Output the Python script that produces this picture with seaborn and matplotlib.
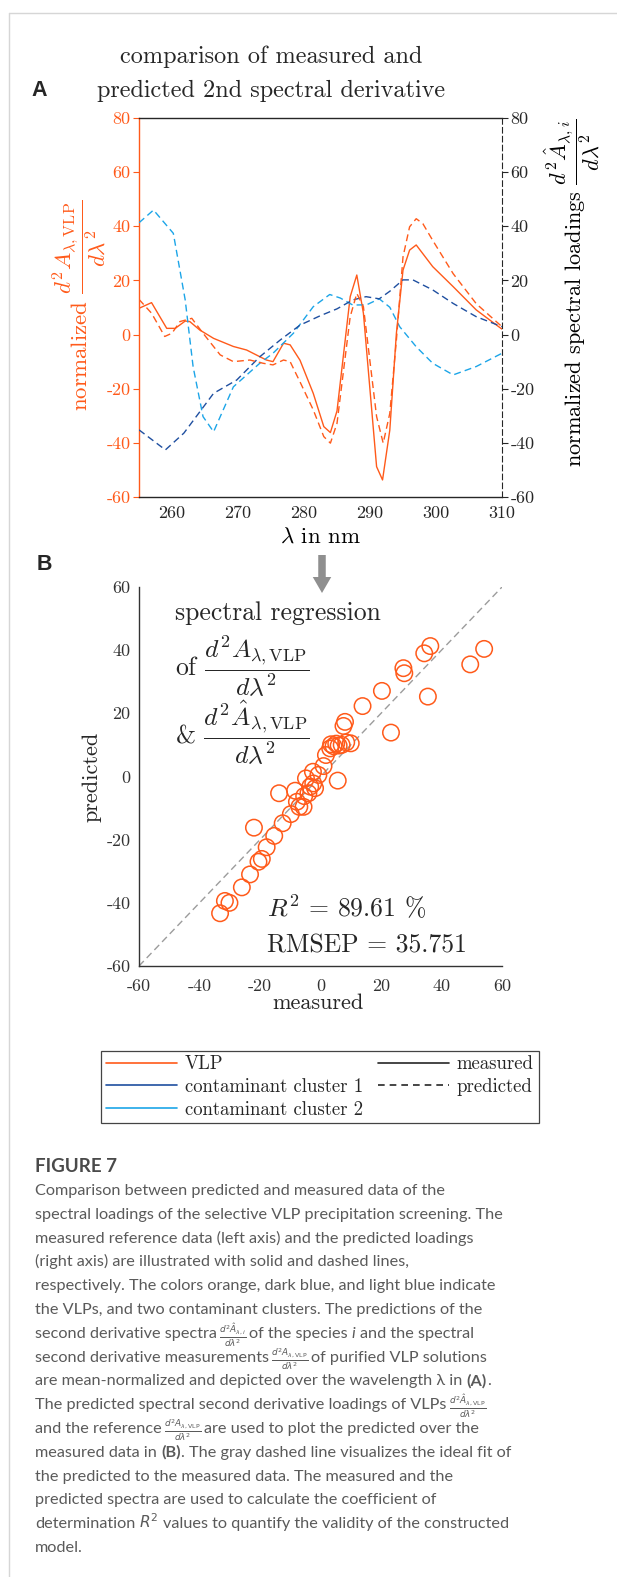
import matplotlib
matplotlib.use("Agg")
import matplotlib.pyplot as plt
import seaborn as sns
from matplotlib.lines import Line2D
from matplotlib.patches import FancyArrow

# ---- panel A: 2nd derivative spectra ----
vlp_meas_wl = [255.0, 256.9, 259.2, 260.5, 262.0, 262.7, 264.2, 266.3, 269.3, 271.3,
               274.3, 275.3, 276.9, 277.9, 279.4, 281.4, 283.0, 284.0, 285.0, 287.0,
               288.0, 289.0, 291.0, 291.9, 293.0, 294.0, 295.0, 296.0, 297.0, 299.5,
               302.6, 306.1, 310.0]
vlp_meas = [9.7, 11.8, 2.3, 2.3, 5.0, 4.8, 1.7, -1.4, -4.4, -5.7,
            -9.4, -10.0, -3.2, -3.8, -9.5, -21.7, -34.0, -36.2, -28.2, 14.0,
            22.0, 7.9, -48.8, -53.7, -35.3, 0.5, 23.8, 31.2, 33.1, 25.1,
            17.7, 9.1, 2.0]

vlp_pred_wl = [255.0, 256.9, 258.9, 260.0, 261.2, 263.0, 264.7, 267.3, 269.3, 271.8,
               273.8, 275.3, 276.9, 277.9, 279.4, 281.4, 283.0, 284.0, 285.0, 287.0,
               288.0, 289.0, 291.0, 292.0, 293.0, 294.0, 295.0, 296.0, 297.0, 298.0,
               299.5, 302.6, 306.1, 310.0]
vlp_pred = [13.0, 7.9, -0.7, 0.5, 4.8, 6.0, 0.5, -7.5, -10.0, -9.4,
            -10.6, -11.2, -9.4, -10.0, -17.5, -27.8, -37.7, -40.1, -32.8, 6.6,
            15.2, 10.3, -30.3, -40.1, -29.1, -2.0, 28.7, 39.8, 42.8, 41.0,
            34.8, 22.5, 11.4, 2.9]

c1_wl = [255.0, 259.0, 261.8, 266.3, 269.8, 273.3, 276.4, 279.4, 282.5, 285.0,
         287.4, 289.4, 291.4, 293.0, 295.0, 296.5, 299.5, 302.6, 306.1, 310.0]
c1_pred = [-35.2, -42.6, -36.4, -21.7, -16.8, -8.2, -2.0, 3.5, 7.0, 9.5,
           12.8, 14.0, 13.2, 16.0, 20.2, 20.2, 16.5, 11.5, 6.6, 2.9]

c2_wl = [255.0, 257.2, 260.2, 262.0, 263.2, 264.7, 266.3, 269.3, 273.3, 275.3,
         278.4, 281.4, 283.9, 285.5, 287.4, 289.5, 291.4, 293.0, 294.5, 297.0,
         299.5, 302.6, 306.1, 310.0]
c2_pred = [41.3, 46.0, 37.4, 12.8, -11.9, -30.3, -35.9, -19.3, -10.6, -6.9,
           0.5, 10.3, 14.8, 13.5, 10.9, 11.0, 13.2, 10.1, 2.9, -4.5,
           -10.6, -14.9, -11.8, -6.9]

wl_ticks = [260, 270, 280, 290, 300, 310]
a_ticks = [-60, -40, -20, 0, 20, 40, 60, 80]

# ---- panel B: predicted over measured ----
measured = [-33.2, -31.6, -30.1, -26.0, -23.3, -22.0, -20.5, -19.4, -17.8, -15.3,
            -13.7, -12.5, -9.8, -8.4, -7.8, -7.0, -5.6, -5.4, -4.8, -4.0,
            -3.4, -2.5, -2.4, -1.8, -0.7, 1.0, 1.8, 3.2, 5.7, 3.5,
            4.3, 5.2, 6.0, 7.0, 8.5, 10.0, 7.6, 8.1, 13.9, 20.3,
            23.3, 27.4, 27.7, 34.3, 35.5, 36.3, 49.5, 54.1]
predicted = [-43.3, -39.4, -40.0, -35.1, -31.0, -16.2, -27.0, -26.1, -22.4, -18.8,
             -5.3, -14.8, -11.9, -4.5, -8.0, -9.6, -9.6, -6.2, -0.6, -5.3,
             -3.2, 1.5, -2.2, -3.7, 0.5, 3.3, 6.8, 8.9, -1.3, 10.2,
             9.6, 10.4, 9.8, 10.0, 10.8, 10.5, 16.0, 17.3, 22.3, 27.1,
             13.9, 34.3, 32.7, 39.0, 25.3, 41.3, 35.5, 40.4]
ideal_fit = [-60, 60]
b_ticks = [-60, -40, -20, 0, 20, 40, 60]

ORANGE = "#FF5A1A"
DARK_BLUE = "#1F4FA0"
LIGHT_BLUE = "#1CA5E8"
INK = "#262626"

sns.set_style("white")
plt.rcParams["font.family"] = "serif"
plt.rcParams["font.serif"] = ["cmr10"]
plt.rcParams["mathtext.fontset"] = "cm"
plt.rcParams["axes.unicode_minus"] = False

W, H = 617, 1577
fig = plt.figure(figsize=(W / 100, H / 100), dpi=100)


def fx(px):
    return px / W


def fy(py):
    return 1 - py / H


# background axes for frame + caption
bg = fig.add_axes([0, 0, 1, 1], zorder=-5)
bg.set_xlim(0, 1)
bg.set_ylim(0, 1)
bg.axis("off")
bg.plot([fx(8.5), fx(8.5)], [fy(12.5), 0], color="#d6d6d6", lw=1.0)
bg.plot([fx(8.5), 1], [fy(12.5), fy(12.5)], color="#d6d6d6", lw=1.0)

# ---- panel A ----
ax_a = fig.add_axes([fx(139), fy(497), 363 / W, 379 / H])
sns.lineplot(x=vlp_meas_wl, y=vlp_meas, ax=ax_a, color=ORANGE, lw=1.0)
ax_r = ax_a.twinx()
for wl, vals, col in [(c2_wl, c2_pred, LIGHT_BLUE), (c1_wl, c1_pred, DARK_BLUE),
                      (vlp_pred_wl, vlp_pred, ORANGE)]:
    sns.lineplot(x=wl, y=vals, ax=ax_r, color=col, lw=1.0)
for ln in ax_r.get_lines():
    ln.set_dashes([5, 3])

for ax in (ax_a, ax_r):
    ax.set_xlim(255, 310)
    ax.set_ylim(-60, 80)
    ax.set_yticks(a_ticks)
    ax.set_yticklabels([str(t) for t in a_ticks])
ax_a.set_xticks(wl_ticks)
ax_a.set_xticklabels([str(t) for t in wl_ticks])
ax_a.tick_params(axis="x", direction="in", length=4, pad=6, labelsize=13, colors=INK)
ax_a.tick_params(axis="y", direction="out", length=4, pad=2, labelsize=13,
                 colors=ORANGE)
ax_r.tick_params(axis="y", direction="out", length=4, pad=2, labelsize=13, colors=INK)
ax_a.spines["left"].set_color(ORANGE)
ax_a.spines["right"].set_visible(False)
ax_r.spines["left"].set_visible(False)
ax_r.spines["right"].set_linestyle((0, (5, 3)))
for sp in ("top", "bottom"):
    ax_a.spines[sp].set_color(INK)
    ax_r.spines[sp].set_visible(False)
for sp in ax_a.spines.values():
    sp.set_linewidth(1.0)
ax_r.spines["right"].set_color(INK)

ax_a.set_xlabel(r"$\lambda$ in nm", fontsize=16.5, color="k", va="center")
ax_a.xaxis.set_label_coords(0.501, -0.1055)
ax_a.set_ylabel(r"normalized $\dfrac{d^2A_{\lambda,\mathrm{VLP}}}{d\lambda^2}$",
                fontsize=16.5, color=ORANGE, va="center")
ax_a.yaxis.set_label_coords(-0.165, 0.507)
ax_r.set_ylabel(r"normalized spectral loadings $\dfrac{d^2\hat{A}_{\lambda,i}}{d\lambda^2}$",
                fontsize=16, color="k", va="center", rotation=90)
ax_r.yaxis.set_label_coords(1.193, 0.54)

fig.text(fx(271), fy(63), "comparison of measured and", fontsize=17.5,
         ha="center", va="baseline")
fig.text(fx(271), fy(97), "predicted 2nd spectral derivative", fontsize=17.5,
         ha="center", va="baseline")
fig.text(fx(31), fy(90), "A", fontsize=15.5, weight="bold", family="Liberation Sans",
         ha="left", va="center")
fig.text(fx(37), fy(565), "B", fontsize=15.5, weight="bold", family="Liberation Sans",
         ha="left", va="center")

# arrow from A to B
fig.add_artist(FancyArrow(3.22, (H - 555) / 100, 0, -0.38, width=0.075,
                          head_width=0.185, head_length=0.16,
                          length_includes_head=True, color="#8f8f8f", lw=0,
                          transform=fig.dpi_scale_trans))

# ---- panel B ----
ax_b = fig.add_axes([fx(139), fy(966), 363 / W, 379 / H])
sns.lineplot(x=ideal_fit, y=ideal_fit, ax=ax_b, color="#9c9c9c", lw=1.0)
ax_b.get_lines()[0].set_dashes([5, 3])
sns.scatterplot(x=measured, y=predicted, ax=ax_b, s=140, marker="o",
                facecolor="none", edgecolor=ORANGE, linewidth=1.1, zorder=3)
ax_b.set_xlim(-60, 60)
ax_b.set_ylim(-60, 60)
ax_b.set_xticks(b_ticks)
ax_b.set_yticks(b_ticks)
ax_b.set_xticklabels([str(t) for t in b_ticks])
ax_b.set_yticklabels([str(t) for t in b_ticks])
sns.despine(ax=ax_b)
for sp in ("left", "bottom"):
    ax_b.spines[sp].set_color("#333333")
    ax_b.spines[sp].set_linewidth(1.0)
ax_b.tick_params(direction="out", length=4, labelsize=13, colors="#333333")
ax_b.tick_params(axis="x", pad=5)
ax_b.tick_params(axis="y", pad=2)
ax_b.set_xlabel("measured", fontsize=16, va="center")
ax_b.xaxis.set_label_coords(0.493, -0.0976)
ax_b.set_ylabel("predicted", fontsize=16, va="center")
ax_b.yaxis.set_label_coords(-0.129, 0.5)

fig.text(fx(175), fy(620), "spectral regression", fontsize=18.5, va="baseline")
fig.text(fx(175), fy(666), r"of $\dfrac{d^2A_{\lambda,\mathrm{VLP}}}{d\lambda^2}$",
         fontsize=18.5, va="center")
fig.text(fx(175), fy(733), r"& $\dfrac{d^2\hat{A}_{\lambda,\mathrm{VLP}}}{d\lambda^2}$",
         fontsize=18.5, va="center")
fig.text(fx(267), fy(917), r"$R^2$ = 89.61 %", fontsize=18.5, va="baseline")
fig.text(fx(267), fy(952), "RMSEP = 35.751", fontsize=18.5, va="baseline")

# ---- legend ----
handles = [
    Line2D([], [], color=ORANGE, lw=1.2, label="VLP"),
    Line2D([], [], color=DARK_BLUE, lw=1.2, label="contaminant cluster 1"),
    Line2D([], [], color=LIGHT_BLUE, lw=1.2, label="contaminant cluster 2"),
    Line2D([], [], color=INK, lw=1.2, label="measured"),
    Line2D([], [], color=INK, lw=1.2, ls=(0, (4, 3)), label="predicted"),
]
leg = fig.legend(handles=handles, ncol=2, loc="center",
                 bbox_to_anchor=(fx(320), fy(1087)), frameon=True, fancybox=False,
                 edgecolor="#444444", framealpha=1, fontsize=13.5,
                 handlelength=3.8, handletextpad=0.4, columnspacing=0.8,
                 labelspacing=0.25, borderpad=0.25, borderaxespad=0)
leg.get_frame().set_linewidth(0.9)

# ---- caption ----
CAP_FAM = ["Lato", "DejaVu Sans"]
CAP_COL = "#5a5a5a"
renderer = fig.canvas.get_renderer()
probe = bg.text(0, 0, "spectral loadings of the selective VLP precipitation screening. The",
                fontsize=10, family=CAP_FAM)
cap_fs = 10 * 468 / probe.get_window_extent(renderer=renderer).width
probe.remove()

bg.text(fx(35), fy(1172), "FIGURE 7", fontsize=13.5, weight="bold", family=CAP_FAM,
        color="#4a4a4a", va="baseline")

FR_HAT_I = r"$\frac{d^2\hat{A}_{\lambda,i}}{d\lambda^2}$"
FR_VLP = r"$\frac{d^2A_{\lambda,\mathrm{VLP}}}{d\lambda^2}$"
FR_HAT_VLP = r"$\frac{d^2\hat{A}_{\lambda,\mathrm{VLP}}}{d\lambda^2}$"

caption = [
    [("Comparison between predicted and measured data of the", "n")],
    [("spectral loadings of the selective VLP precipitation screening. The", "n")],
    [("measured reference data (left axis) and the predicted loadings", "n")],
    [("(right axis) are illustrated with solid and dashed lines,", "n")],
    [("respectively. The colors orange, dark blue, and light blue indicate", "n")],
    [("the VLPs, and two contaminant clusters. The predictions of the", "n")],
    [("second derivative spectra", "n"), (FR_HAT_I, "f"), ("of the species", "n"),
     ("i", "i"), ("and the spectral", "n")],
    [("second derivative measurements", "n"), (FR_VLP, "f"),
     ("of purified VLP solutions", "n")],
    [("are mean-normalized and depicted over the wavelength \u03bb in", "n"),
     ("(A)", "b"), (".", "p")],
    [("The predicted spectral second derivative loadings of VLPs", "n"),
     (FR_HAT_VLP, "f")],
    [("and the reference", "n"), (FR_VLP, "f"),
     ("are used to plot the predicted over the", "n")],
    [("measured data in", "n"), ("(B)", "b"),
     (". The gray dashed line visualizes the ideal fit of", "p")],
    [("the predicted to the measured data. The measured and the", "n")],
    [("predicted spectra are used to calculate the coefficient of", "n")],
    [("determination", "n"), (r"$R^2$", "m"),
     ("values to quantify the validity of the constructed", "n")],
    [("model.", "n")],
]

gap = 0.25 * cap_fs
for i, pieces in enumerate(caption):
    y = fy(1195 + 23.8 * i)
    prev = base = None
    prev_kind = None
    for s, kind in pieces:
        kw = dict(fontsize=cap_fs, color=CAP_COL, family=CAP_FAM,
                  math_fontfamily="dejavusans", ha="left")
        if kind == "b":
            kw["weight"] = "bold"
        if kind == "i":
            kw["style"] = "italic"
        if kind == "f":
            kw["fontsize"] = cap_fs * 0.78
        if kind == "m":
            kw["fontsize"] = cap_fs * 0.95
        if prev is None:
            t = bg.text(fx(35), y, s, va="baseline", **kw)
            base = t
        else:
            dx = 0 if kind == "p" else gap * (0.6 if kind == "f" or prev_kind == "f" else 1)
            if kind == "f":
                t = bg.annotate(s, xy=(1, 0.42), xycoords=(prev, base), xytext=(dx, 0),
                                textcoords="offset points", va="center", **kw)
            else:
                t = bg.annotate(s, xy=(1, 0), xycoords=(prev, base), xytext=(dx, 0),
                                textcoords="offset points", va="bottom", **kw)
                base = t
        prev, prev_kind = t, kind

fig.savefig("out.png", dpi=100)
